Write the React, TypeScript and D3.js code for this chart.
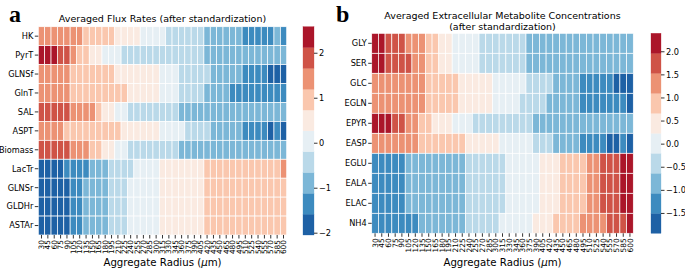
import React from "react";
import * as d3 from "d3";

const radii = [30,45,60,75,90,105,120,135,150,165,180,195,210,225,240,255,270,285,300,315,330,345,360,375,390,405,420,435,450,465,480,495,510,525,540,555,570,585,600];

const fluxNames = ["HK","PyrT","GLNSf","GlnT","SAL","ASPT","Biomass","LacTr","GLNSr","GLDHr","ASTAr"];
const fluxHK = [1.6,1.55,1.5,1.45,1.4,1.35,1.3,1.1,1.05,1.0,0.9,0.85,0.65,0.6,0.5,0.4,0.2,0.1,0.0,-0.1,-0.25,-0.3,-0.35,-0.45,-0.5,-0.6,-0.7,-0.75,-0.85,-0.9,-1.0,-1.05,-1.2,-1.3,-1.35,-1.4,-1.3,-1.0,-1.25];
const fluxPyrT = [2.45,2.5,2.4,2.0,1.8,1.4,1.0,0.85,0.6,0.4,0.15,0.0,-0.1,-0.25,-0.3,-0.3,-0.35,-0.4,-0.4,-0.45,-0.45,-0.5,-0.5,-0.55,-0.6,-0.6,-0.7,-0.75,-0.75,-0.8,-0.8,-0.85,-0.85,-0.9,-0.9,-0.85,-0.9,-0.95,-0.9];
const fluxGLNSf = [1.4,1.4,1.35,1.3,1.25,1.15,1.1,1.05,1.0,0.95,0.9,0.8,0.7,0.65,0.6,0.5,0.45,0.4,0.3,0.2,0.1,0.0,-0.2,-0.3,-0.4,-0.5,-0.6,-0.7,-0.8,-0.85,-0.95,-1.05,-1.2,-1.3,-1.4,-1.5,-1.7,-1.8,-1.75];
const fluxGlnT = [1.45,1.4,1.35,1.3,1.25,1.15,1.1,1.05,1.0,0.95,0.9,0.85,0.8,0.75,0.7,0.6,0.5,0.4,0.3,0.2,0.05,-0.1,-0.25,-0.35,-0.45,-0.55,-0.7,-0.8,-0.9,-1.0,-1.2,-1.25,-1.3,-1.35,-1.4,-1.35,-1.3,-1.4,-1.35];
const fluxSAL = [2.0,1.95,1.9,1.85,1.7,1.55,1.5,1.4,1.3,0.9,0.6,0.4,0.1,-0.1,-0.25,-0.3,-0.35,-0.4,-0.45,-0.5,-0.55,-0.6,-0.7,-0.75,-0.8,-0.85,-0.9,-0.95,-1.0,-0.95,-0.9,-0.85,-0.9,-0.95,-1.0,-0.95,-0.9,-0.85,-0.8];
const fluxASPT = [1.35,1.3,1.3,1.25,1.15,1.1,1.05,1.0,0.95,0.9,0.85,0.8,0.75,0.7,0.6,0.55,0.5,0.4,0.3,0.2,0.1,0.0,-0.1,-0.25,-0.35,-0.45,-0.55,-0.7,-0.8,-0.9,-1.0,-1.05,-1.2,-1.3,-1.4,-1.5,-1.7,-1.5,-1.75];
const fluxBiomass = [1.9,1.95,1.9,1.85,1.75,1.55,1.45,1.35,1.0,0.8,0.6,0.4,0.15,-0.1,-0.25,-0.3,-0.35,-0.4,-0.45,-0.5,-0.55,-0.6,-0.7,-0.75,-0.8,-0.85,-0.9,-0.95,-1.0,-0.95,-0.9,-0.9,-0.85,-0.85,-0.8,-0.8,-0.8,-0.75,-0.75];
const fluxLacTr = [-1.85,-1.8,-1.75,-1.7,-1.5,-1.4,-1.3,-1.2,-1.0,-0.9,-0.8,-0.6,-0.5,-0.4,-0.3,-0.15,-0.05,0.05,0.15,0.3,0.35,0.4,0.45,0.5,0.55,0.65,0.75,0.8,0.85,0.9,0.9,0.95,0.95,1.0,1.0,1.0,1.05,1.1,1.4];
const fluxGLNSr = [-1.9,-1.85,-1.8,-1.75,-1.65,-1.45,-1.3,-1.05,-0.95,-0.85,-0.7,-0.6,-0.45,-0.3,-0.15,-0.05,0.05,0.15,0.2,0.3,0.35,0.4,0.45,0.5,0.55,0.65,0.75,0.8,0.85,0.9,0.9,0.95,0.95,1.0,1.0,1.0,1.05,1.05,1.1];
const fluxGLDHr = [-1.9,-1.85,-1.8,-1.7,-1.65,-1.45,-1.3,-1.05,-0.95,-0.85,-0.7,-0.6,-0.45,-0.3,-0.15,-0.05,0.05,0.1,0.2,0.3,0.35,0.4,0.45,0.55,0.6,0.7,0.75,0.8,0.85,0.9,0.9,0.95,1.0,1.0,1.0,1.05,1.05,1.1,1.1];
const fluxASTAr = [-1.9,-1.85,-1.8,-1.75,-1.6,-1.45,-1.25,-1.05,-0.95,-0.8,-0.7,-0.6,-0.45,-0.3,-0.15,-0.05,0.05,0.15,0.2,0.3,0.35,0.4,0.5,0.55,0.6,0.7,0.75,0.8,0.85,0.9,0.95,0.95,1.0,1.0,1.05,1.05,1.1,1.1,1.15];

const metNames = ["GLY","SER","GLC","EGLN","EPYR","EASP","EGLU","EALA","ELAC","NH4"];
const metGLY = [2.2,2.1,1.9,1.8,1.65,1.5,1.4,1.2,1.0,0.8,0.6,0.4,0.2,0.1,0.0,-0.1,-0.25,-0.3,-0.35,-0.4,-0.45,-0.5,-0.55,-0.7,-0.75,-0.8,-0.8,-0.85,-0.85,-0.9,-0.9,-0.9,-0.95,-0.9,-0.9,-0.9,-0.95,-0.9,-0.9];
const metSER = [2.25,2.2,1.95,1.85,1.75,1.6,1.45,1.25,1.0,0.8,0.6,0.4,0.2,0.1,0.0,-0.1,-0.25,-0.3,-0.35,-0.4,-0.45,-0.5,-0.55,-0.7,-0.75,-0.8,-0.8,-0.85,-0.85,-0.9,-0.9,-0.9,-0.95,-0.9,-0.9,-0.9,-0.95,-0.9,-0.85];
const metGLC = [1.3,1.3,1.25,1.25,1.2,1.2,1.15,1.15,1.05,0.95,0.9,0.8,0.7,0.6,0.5,0.45,0.4,0.3,0.2,0.1,0.0,-0.05,-0.15,-0.25,-0.35,-0.45,-0.55,-0.7,-0.8,-0.9,-1.0,-1.1,-1.2,-1.3,-1.35,-1.4,-1.55,-1.65,-1.6];
const metEGLN = [1.3,1.3,1.25,1.25,1.2,1.2,1.15,1.15,1.05,0.95,0.9,0.8,0.7,0.6,0.5,0.45,0.4,0.3,0.15,0.05,-0.05,-0.15,-0.25,-0.35,-0.45,-0.55,-0.7,-0.8,-0.85,-0.95,-1.0,-1.1,-1.2,-1.3,-1.3,-1.35,-1.4,-1.4,-1.55];
const metEPYR = [2.2,2.2,2.1,1.8,1.6,1.4,1.2,0.95,0.75,0.6,0.45,0.3,0.15,0.0,-0.15,-0.25,-0.3,-0.35,-0.4,-0.45,-0.5,-0.5,-0.55,-0.6,-0.7,-0.75,-0.8,-0.8,-0.85,-0.85,-0.9,-0.9,-0.95,-0.95,-0.9,-0.95,-0.95,-0.9,-0.95];
const metEASP = [1.3,1.25,1.25,1.2,1.2,1.15,1.15,1.05,1.0,0.95,0.9,0.85,0.75,0.7,0.6,0.5,0.45,0.35,0.25,0.2,0.1,0.0,-0.1,-0.15,-0.3,-0.45,-0.55,-0.7,-0.8,-0.9,-1.0,-1.1,-1.2,-1.3,-1.45,-1.55,-1.6,-1.45,-1.65];
const metEGLU = [-1.3,-1.3,-1.3,-1.25,-1.2,-1.0,-0.95,-0.9,-0.9,-0.85,-0.8,-0.75,-0.7,-0.65,-0.6,-0.5,-0.45,-0.4,-0.3,-0.25,-0.15,-0.1,0.0,0.1,0.2,0.3,0.45,0.6,0.7,0.8,0.9,1.0,1.2,1.4,1.6,1.75,1.9,2.1,2.25];
const metEALA = [-1.3,-1.3,-1.25,-1.25,-1.2,-1.0,-0.95,-0.9,-0.85,-0.85,-0.8,-0.75,-0.7,-0.65,-0.6,-0.5,-0.45,-0.4,-0.3,-0.25,-0.15,-0.1,0.0,0.1,0.2,0.3,0.45,0.6,0.75,0.8,0.9,1.0,1.2,1.4,1.6,1.75,1.9,2.1,2.2];
const metELAC = [-1.3,-1.25,-1.25,-1.2,-1.2,-1.0,-0.95,-0.9,-0.85,-0.8,-0.8,-0.75,-0.7,-0.65,-0.6,-0.5,-0.45,-0.4,-0.3,-0.25,-0.15,-0.1,0.0,0.1,0.2,0.3,0.45,0.6,0.75,0.85,0.9,1.0,1.2,1.4,1.6,1.75,1.9,2.05,2.2];
const metNH4 = [-1.35,-1.3,-1.3,-1.25,-1.25,-1.15,-1.1,-1.0,-0.95,-0.9,-0.85,-0.8,-0.75,-0.7,-0.6,-0.5,-0.4,-0.3,-0.25,-0.15,-0.1,0.0,0.1,0.2,0.3,0.45,0.6,0.7,0.8,0.9,1.0,1.15,1.25,1.35,1.45,1.6,1.75,1.9,2.1];

const fluxTicks = [2,1,0,-1,-2];
const metTicks = [2.0,1.5,1.0,0.5,0.0,-0.5,-1.0,-1.5];
const fluxRange = [-2.04, 2.59];
const metRange = [-1.93, 2.40];

const rdbu = ["#053061","#2166ac","#4393c3","#92c5de","#d1e5f0","#f7f7f7","#fddbc7","#f4a582","#d6604d","#b2182b","#67001f"];
const cmap = d3.scaleLinear<string>().domain(d3.range(11).map(i => i / 10)).range(rdbu).interpolate(d3.interpolateRgb);
const palette = d3.range(1, 11).map(k => cmap(k / 11));

const FONT = "DejaVu Sans, sans-serif";
const fmtMinus = (s: string) => s.replace("-", "\u2212");

type PanelProps = {
  names: string[];
  rows: number[][];
  x0: number; x1: number; y0: number; y1: number;
  range: number[];
  ticks: number[];
  tickFmt: (v: number) => string;
  cbX: number; cbW: number;
};

function Panel({ names, rows, x0, x1, y0, y1, range, ticks, tickFmt, cbX, cbW }: PanelProps) {
  const x = d3.scaleBand<number>().domain(radii).range([x0, x1]).padding(0);
  const y = d3.scaleBand<string>().domain(names).range([y0, y1]).padding(0);
  const color = d3.scaleQuantize<string>().domain(range as [number, number]).range(palette);
  const cb = d3.scaleLinear().domain(range).range([y1, y0]);
  const binW = (range[1] - range[0]) / palette.length;
  return (
    <g>
      {rows.map((row, ri) =>
        row.map((v, ci) => (
          <rect key={`${ri}-${ci}`} x={x(radii[ci])} y={y(names[ri])} width={x.bandwidth()} height={y.bandwidth()}
            fill={color(v)} stroke="#ffffff" strokeWidth={0.7} />
        ))
      )}
      {names.map(n => {
        const cy = (y(n) as number) + y.bandwidth() / 2;
        return (
          <g key={n}>
            <line x1={x0 - 3.5} x2={x0} y1={cy} y2={cy} stroke="#000" strokeWidth={0.8} />
            <text x={x0 - 5} y={cy} dy="0.35em" textAnchor="end" fontSize={8.2} fontFamily={FONT} fill="#000">{n}</text>
          </g>
        );
      })}
      {radii.map(r => {
        const cx = (x(r) as number) + x.bandwidth() / 2;
        return (
          <g key={r}>
            <line x1={cx} x2={cx} y1={y1} y2={y1 + 3.5} stroke="#000" strokeWidth={0.8} />
            <text transform={`translate(${cx},${y1 + 5}) rotate(-90)`} dy="0.35em" textAnchor="end" fontSize={7.4} fontFamily={FONT} fill="#000">{r}</text>
          </g>
        );
      })}
      <text x={(x0 + x1) / 2} y={266} textAnchor="middle" fontSize={10.2} fontFamily={FONT} fill="#000">
        Aggregate Radius (<tspan fontStyle="italic">μ</tspan>m)
      </text>
      {palette.map((c, i) => {
        const lo = range[0] + i * binW;
        const hi = lo + binW;
        return <rect key={c} x={cbX} y={cb(hi)} width={cbW} height={cb(lo) - cb(hi)} fill={c} stroke={c} strokeWidth={0.3} />;
      })}
      {ticks.map(t => (
        <g key={t}>
          <line x1={cbX + cbW} x2={cbX + cbW + 3.5} y1={cb(t)} y2={cb(t)} stroke="#000" strokeWidth={0.8} />
          <text x={cbX + cbW + 5} y={cb(t)} dy="0.35em" fontSize={8.2} fontFamily={FONT} fill="#000">{fmtMinus(tickFmt(t))}</text>
        </g>
      ))}
    </g>
  );
}

export default function App() {
  const fluxRows = [fluxHK, fluxPyrT, fluxGLNSf, fluxGlnT, fluxSAL, fluxASPT, fluxBiomass, fluxLacTr, fluxGLNSr, fluxGLDHr, fluxASTAr];
  const metRows = [metGLY, metSER, metGLC, metEGLN, metEPYR, metEASP, metEGLU, metEALA, metELAC, metNH4];
  return (
    <svg width={685} height={270} style={{ position: "absolute", left: 0, top: 0, background: "#fff" }}>
      <rect width={685} height={270} fill="#fff" />
      <text x={9} y={22} fontSize={24} fontWeight="bold" fontFamily="Liberation Serif, serif" fill="#000">a</text>
      <text x={336} y={22} fontSize={24} fontWeight="bold" fontFamily="Liberation Serif, serif" fill="#000">b</text>
      <text x={162.5} y={22} textAnchor="middle" fontSize={9.5} fontFamily={FONT} fill="#000">Averaged Flux Rates (after standardization)</text>
      <text x={502.5} y={19} textAnchor="middle" fontSize={9.5} fontFamily={FONT} fill="#000">Averaged Extracellular Metabolite Concentrations</text>
      <text x={502.5} y={29.5} textAnchor="middle" fontSize={9.5} fontFamily={FONT} fill="#000">(after standardization)</text>
      <Panel names={fluxNames} rows={fluxRows} x0={38.3} x1={286.7} y0={26.7} y1={235} range={fluxRange}
        ticks={fluxTicks} tickFmt={v => d3.format("d")(v)} cbX={303} cbW={11} />
      <Panel names={metNames} rows={metRows} x0={371.7} x1={633.3} y0={33.3} y1={233.3} range={metRange}
        ticks={metTicks} tickFmt={v => d3.format(".1f")(v)} cbX={651} cbW={10} />
    </svg>
  );
}
